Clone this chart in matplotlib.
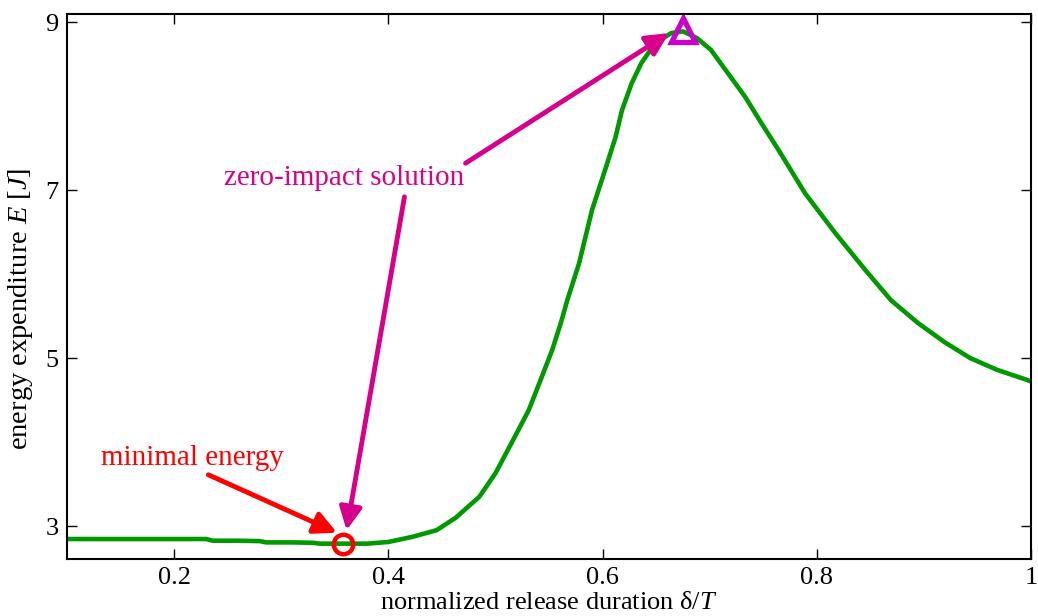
import matplotlib
matplotlib.use("Agg")
import matplotlib.pyplot as plt

plt.rcParams['font.family'] = ['Liberation Serif', 'DejaVu Serif']
plt.rcParams['mathtext.fontset'] = 'custom'
plt.rcParams['mathtext.rm'] = 'Liberation Serif'
plt.rcParams['mathtext.it'] = 'Liberation Serif:italic'

# Curve data (normalized release duration vs. energy expenditure)
delta = [0.10, 0.15, 0.20, 0.230, 0.236, 0.26, 0.280, 0.286, 0.31, 0.330, 0.336, 0.36,
         0.38, 0.40, 0.422, 0.445, 0.463, 0.485, 0.50, 0.515, 0.531, 0.543, 0.553,
         0.561, 0.567, 0.578, 0.590, 0.603, 0.612, 0.618, 0.627, 0.636, 0.649, 0.664,
         0.675, 0.688, 0.701, 0.717, 0.733, 0.748, 0.764, 0.789, 0.817, 0.845, 0.869,
         0.894, 0.919, 0.943, 0.968, 0.996, 1.00]
energy = [2.845, 2.845, 2.845, 2.845, 2.825, 2.825, 2.82, 2.805, 2.805, 2.80, 2.79, 2.79,
          2.79, 2.81, 2.87, 2.95, 3.10, 3.35, 3.63, 3.99, 4.38, 4.77, 5.10,
          5.42, 5.69, 6.13, 6.76, 7.27, 7.63, 7.95, 8.27, 8.51, 8.75, 8.87,
          8.89, 8.81, 8.67, 8.39, 8.11, 7.80, 7.48, 6.96, 6.49, 6.05, 5.69,
          5.42, 5.19, 5.00, 4.86, 4.74, 4.72]

min_point = (0.358, 2.79)
zero_impact_point = (0.675, 8.91)

xticks = [0.2, 0.4, 0.6, 0.8, 1.0]
xtick_labels = ['0.2', '0.4', '0.6', '0.8', '1']
yticks = [3, 5, 7, 9]
ytick_labels = ['3', '5', '7', '9']

green = '#009900'
red = '#ff0000'
pink = '#d6008a'
purple = '#cc00cc'

fig = plt.figure(figsize=(10.38, 6.16), dpi=100)
ax = fig.add_axes([0.0645, 0.0925, 0.929, 0.8845])

ax.plot(delta, energy, color=green, lw=3.3)
ax.plot(*min_point, marker='o', ms=14, mfc='none', mec=red, mew=3.2)
ax.plot(*zero_impact_point, marker='^', ms=17, mfc='none', mec=purple, mew=3.8, clip_on=False)

ax.set_xlim(0.1, 1.0)
ax.set_ylim(2.607, 9.095)
ax.set_xticks(xticks)
ax.set_xticklabels(xtick_labels)
ax.set_yticks(yticks)
ax.set_yticklabels(ytick_labels)
ax.tick_params(direction='in', length=7, width=1, labelsize=19, top=True, right=True, pad=6)
for s in ax.spines.values():
    s.set_linewidth(1.5)

ax.set_xlabel(r'normalized release duration δ/$\mathit{T}$', fontsize=19, labelpad=2)
ax.set_ylabel(r'energy expenditure $\mathit{E}$ [$\mathit{J}$]', fontsize=20.5)
ax.yaxis.set_label_coords(-0.0335, 0.46)

arrow_kw = dict(arrowstyle='-|>', lw=3.5, mutation_scale=34, shrinkA=0, shrinkB=0)

ax.text(0.217, 3.81, 'minimal energy', color=red, fontsize=21, ha='center', va='center')
ax.annotate('', xy=(0.352, 2.92), xytext=(0.232, 3.61),
            arrowprops=dict(color=red, **arrow_kw))

ax.text(0.359, 7.14, 'zero-impact solution', color=pink, fontsize=21, ha='center', va='center')
ax.annotate('', xy=(0.361, 2.95), xytext=(0.415, 6.92),
            arrowprops=dict(color=pink, **arrow_kw))
ax.annotate('', xy=(0.662, 8.87), xytext=(0.472, 7.32),
            arrowprops=dict(color=pink, **arrow_kw))

fig.savefig('out.png', dpi=100)
